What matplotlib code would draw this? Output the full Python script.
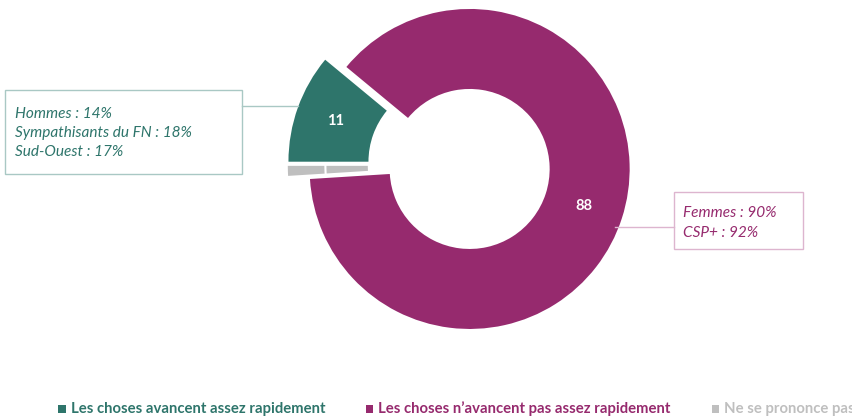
import matplotlib
matplotlib.use("Agg")
import matplotlib.pyplot as plt
from matplotlib.patches import Rectangle, Arc
import numpy as np

# ---- data ----
categories = ["Les choses avancent assez rapidement",
              "Ne se prononce pas",
              "Les choses n\u2019avancent pas assez rapidement"]
values = [11, 1, 88]
colors = ["#2E756B", "#BFBFBF", "#962A6E"]
show_label = [True, False, True]
legend_order = [0, 2, 1]
teal_notes = ["Hommes : 14%", "Sympathisants du FN : 18%", "Sud-Ouest : 17%"]
purple_notes = ["Femmes : 90%", "CSP+ : 92%"]

W, H = 853, 419
FONT = ["Lato", "DejaVu Sans"]

fig = plt.figure(figsize=(W / 100, H / 100), dpi=100)
ax = fig.add_axes([0, 0, 1, 1])

def sy(y):
    return H - y

R = 160
cx, cy = 459, sy(165.5)
total = sum(values)
start = 180 - 360 * values[0] / total
wedges, _ = ax.pie(values, colors=colors, radius=R, center=(cx, cy),
                   startangle=start, counterclock=True,
                   explode=[0.07 * R] * len(values),
                   wedgeprops=dict(width=R * 0.5, linewidth=0))

ax.set_xlim(0, W)
ax.set_ylim(0, H)
ax.set_aspect("equal")
ax.axis("off")

for w, v, show in zip(wedges, values, show_label):
    mid = np.deg2rad((w.theta1 + w.theta2) / 2)
    wx, wy = w.center
    if show:
        ax.text(wx + 0.75 * R * np.cos(mid), wy + 0.75 * R * np.sin(mid), str(v),
                color="white", fontsize=10.5, fontweight="bold", family=FONT,
                ha="center", va="center")
    else:
        ax.add_patch(Arc((wx, wy), 2 * 0.765 * R, 2 * 0.765 * R,
                         theta1=w.theta1 - 1, theta2=w.theta2 + 1,
                         color="white", lw=1.5))

# ---- annotation boxes ----
teal_c, purple_c = colors[0], colors[2]
ax.add_patch(Rectangle((5, sy(174)), 237, 84, fill=False, ec="#A9C8C4", lw=1))
ax.plot([242, 298], [sy(105.5), sy(105.5)], color="#A9C8C4", lw=1)
for i, t in enumerate(teal_notes):
    ax.text(15, sy(117.5 + 19.2 * i), t, color=teal_c, fontsize=11.1,
            style="italic", family=FONT, va="baseline", ha="left")

ax.add_patch(Rectangle((674, sy(249)), 129, 57, fill=False, ec="#DDB5CF", lw=1))
ax.plot([615, 674], [sy(227), sy(227)], color="#DDB5CF", lw=1)
for i, t in enumerate(purple_notes):
    ax.text(683, sy(217.3 + 19.4 * i), t, color=purple_c, fontsize=11.1,
            style="italic", family=FONT, va="baseline", ha="left")

# ---- legend ----
leg_x = [58.3, 365.7, 711.7]
for x, idx in zip(leg_x, legend_order):
    ax.add_patch(Rectangle((x, sy(412.8)), 7.5, 7.3, color=colors[idx], lw=0))
    ax.text(x + 12.4, sy(413.3), categories[idx], color=colors[idx],
            fontsize=10.7, fontweight="bold", family=FONT, va="baseline", ha="left")

fig.savefig("out.png", dpi=100)
